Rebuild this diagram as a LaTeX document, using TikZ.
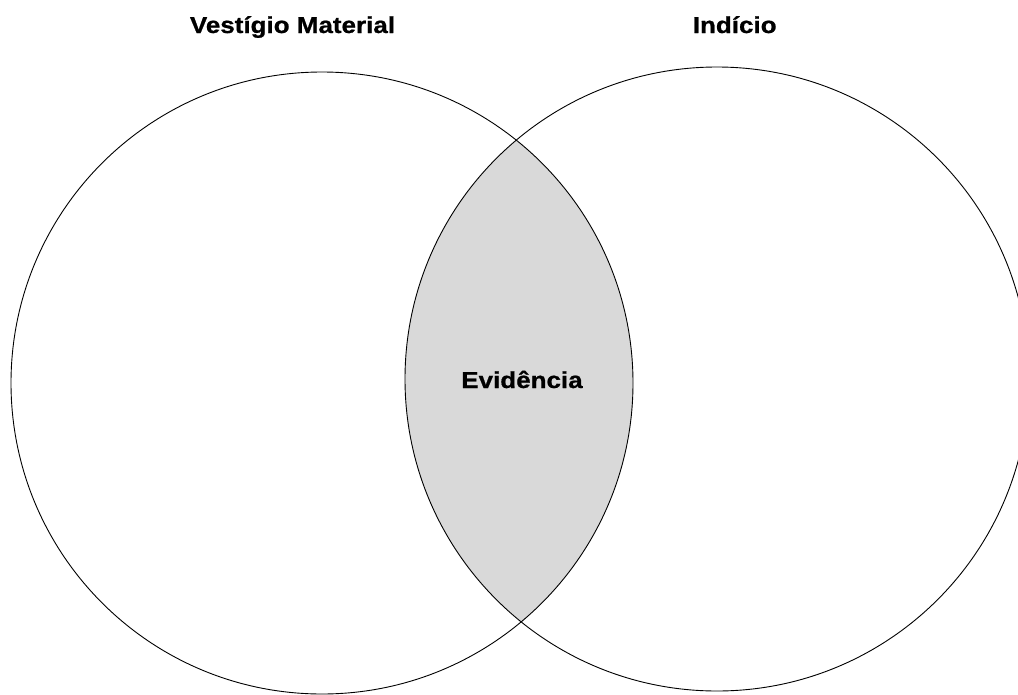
\documentclass[tikz,border=0pt]{standalone}
\usepackage{fontspec}
\newfontfamily\lblfont{Liberation Sans}[FakeStretch=1.13,BoldFeatures={FakeBold=0.8}]
\definecolor{lensgray}{RGB}{217,217,217}
\begin{document}
\begin{tikzpicture}[x=1pt,y=-1pt,
  ring/.style={draw=black,line width=0.9pt},
  lbl/.style={font=\lblfont\bfseries\fontsize{23}{27}\selectfont,inner sep=0pt,anchor=base}]
\useasboundingbox (0,0) rectangle (1018,694);
\clip (0,0) rectangle (1018,694);
\coordinate (cl) at (322,383);
\coordinate (cr) at (717,379);
\begin{scope}
  \clip (cl) circle[radius=311];
  \fill[lensgray] (cr) circle[radius=312];
\end{scope}
\draw[ring] (cl) circle[radius=311];
\draw[ring] (cr) circle[radius=312];
\node[lbl] (vm) at (292.5,33) {Vestígio Material};
\node[lbl] (ind) at (734.7,33) {Indício};
\node[lbl] (ev) at (522,388) {Evidência};
\end{tikzpicture}
\end{document}
